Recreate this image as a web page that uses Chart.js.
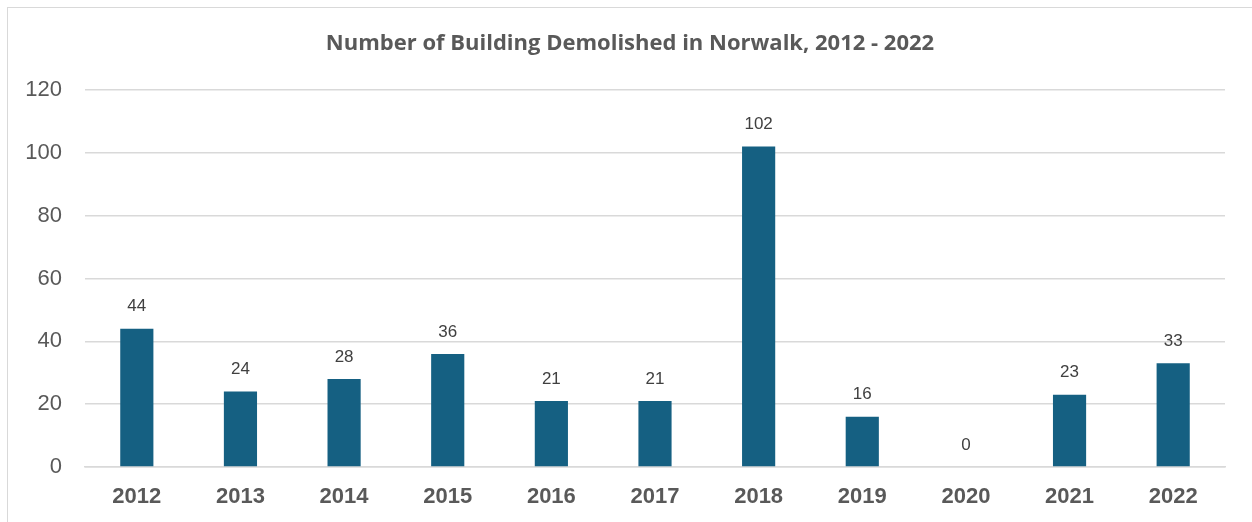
<!DOCTYPE html>
<html>
<head>
<meta charset="utf-8">
<script src="https://cdn.jsdelivr.net/npm/chart.js@4.4.1/dist/chart.umd.min.js"></script>
<style>
  html, body { margin: 0; padding: 0; background: #fff; }
  #wrap { position: relative; width: 1252px; height: 522px; }
  #frame {
    position: absolute; left: 7px; top: 7px; right: 0; bottom: 0;
    border-top: 1.5px solid #d9d9d9; border-left: 1.5px solid #d9d9d9;
  }
  canvas { position: absolute; left: 0; top: 0; }
</style>
</head>
<body>
<div id="wrap">
  <div id="frame"></div>
  <canvas id="chart" width="1252" height="522"></canvas>
</div>
<script>
// data
const years = ['2012', '2013', '2014', '2015', '2016', '2017', '2018', '2019', '2020', '2021', '2022'];
const demolished = [44, 24, 28, 36, 21, 21, 102, 16, 0, 23, 33];

const chartTitle = 'Number of Building Demolished in Norwalk, 2012 - 2022';

// title centred on the frame, not on the plot
const frameTitle = {
    id: 'frameTitle',
    afterDraw(chart) {
        const ctx = chart.ctx;
        ctx.save();
        ctx.font = 'bold 22px "Open Sans", sans-serif';
        ctx.fillStyle = '#595959';
        ctx.textAlign = 'center';
        ctx.textBaseline = 'middle';
        ctx.fillText(chartTitle, 630, 44);
        ctx.restore();
    }
};

// labels above the bars
const barValueLabels = {
    id: 'barValueLabels',
    afterDatasetsDraw(chart) {
        const ctx = chart.ctx;
        const meta = chart.getDatasetMeta(0);
        ctx.save();
        ctx.font = '17px "Liberation Sans", Arial, sans-serif';
        ctx.fillStyle = '#404040';
        ctx.textAlign = 'center';
        ctx.textBaseline = 'middle';
        meta.data.forEach((bar, i) => {
            ctx.fillText(String(demolished[i]), bar.x, bar.y - 22);
        });
        ctx.restore();
    }
};

new Chart(document.getElementById('chart'), {
    type: 'bar',
    data: {
        labels: years,
        datasets: [{
            data: demolished,
            backgroundColor: '#156082',
            borderWidth: 0,
            barPercentage: 0.32,
            categoryPercentage: 1
        }]
    },
    options: {
        responsive: false,
        animation: false,
        layout: { padding: { top: 90, right: 27, bottom: 13, left: 0 } },
        plugins: {
            legend: { display: false },
            tooltip: { enabled: false },
            title: { display: false }
        },
        scales: {
            x: {
                afterFit(scale) { scale.height = 42; },
                grid: { display: false, drawTicks: false },
                border: { color: '#d9d9d9', width: 1.5 },
                ticks: {
                    color: '#595959',
                    padding: 17,
                    font: { family: '"Liberation Sans", Arial, sans-serif', size: 22, weight: 'bold' }
                }
            },
            y: {
                min: 0,
                max: 120,
                afterFit(scale) { scale.width = 85; },
                grid: { color: '#d9d9d9', lineWidth: 1.5, drawTicks: false },
                border: { display: false },
                ticks: {
                    stepSize: 20,
                    color: '#595959',
                    padding: 23,
                    font: { family: '"Liberation Sans", Arial, sans-serif', size: 22 }
                }
            }
        }
    },
    plugins: [barValueLabels, frameTitle]
});
</script>
</body>
</html>
